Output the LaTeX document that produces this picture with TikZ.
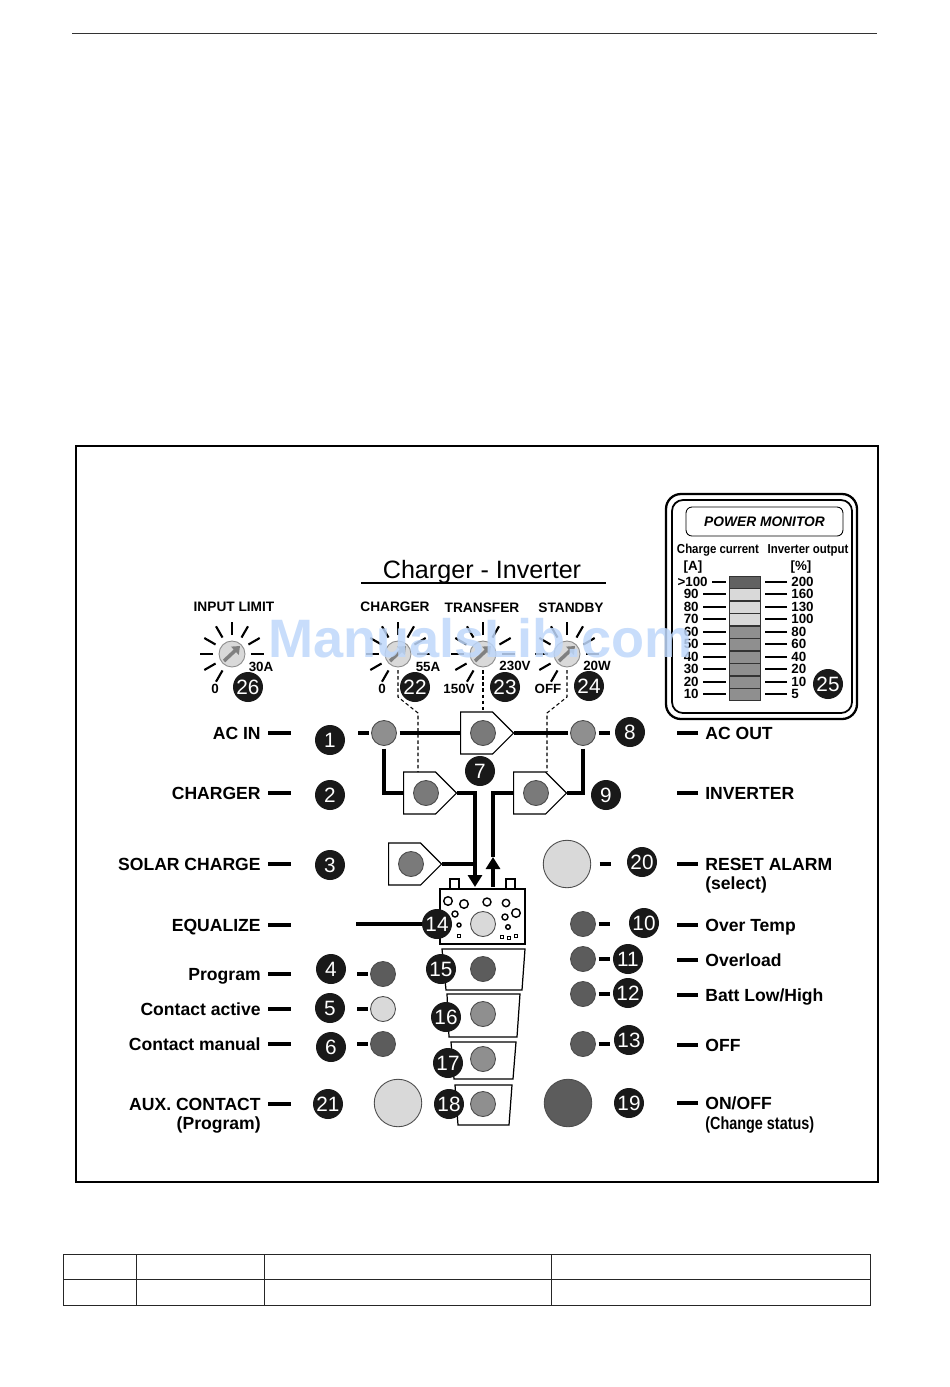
\documentclass[tikz,border=0pt]{standalone}
\usepackage{fontspec}
\setmainfont{Liberation Sans}
\usepackage{tikz}
\usetikzlibrary{arrows.meta,positioning,calc,shapes.symbols}
\definecolor{ledlight}{gray}{0.85}
\definecolor{ledmid}{gray}{0.56}
\definecolor{leddark}{gray}{0.36}
\definecolor{markblue}{RGB}{190,215,250}
\tikzset{
    wire/.style={line width=1.9pt},
    arr/.style={wire, -{Stealth[inset=0pt,length=0.24cm,width=0.28cm]}},
    thinline/.style={line width=0.7pt},
    dashline/.style={line width=0.6pt, dash pattern=on 2pt off 1.5pt},
    led/.style={circle, draw=black!70, fill=#1, line width=0.5pt, minimum size=0.5cm,
                inner sep=0pt, outer sep=0.06cm},
    bigled/.style={led=#1, minimum size=0.95cm},
    knob/.style={circle, draw=black!45, fill=ledlight, line width=0.5pt, minimum size=0.52cm,
                 inner sep=0pt, outer sep=0.06cm},
    badge/.style={circle, fill=black!90, text=white, minimum size=0.6cm, inner sep=0pt,
                  font=\fontsize{11.8pt}{13pt}\selectfont},
    pent/.style={signal, signal to=east, signal pointer angle=90, draw, thinline, fill=white,
                 minimum width=1.06cm, minimum height=0.84cm, inner sep=0pt, anchor=west},
    lbl/.style={font=\fontsize{10pt}{12pt}\selectfont\bfseries, inner sep=0pt,
                text height=7.5pt, text depth=0pt},
    sml/.style={font=\fontsize{7.8pt}{9pt}\selectfont\bfseries, inner sep=0pt},
    scl/.style={font=\fontsize{7.6pt}{9pt}\selectfont\bfseries, inner sep=0pt,
                text height=5.5pt, text depth=0pt},
}
\begin{document}
\begin{tikzpicture}[x=0.02cm, y=-0.02cm]
    \useasboundingbox (0,0) rectangle (950,1387);

    % Page rule, frame and empty table
    \coordinate (ruleL) at (72,33);
    \coordinate (ruleR) at (877,33);
    \draw[black!80, line width=0.5pt] (ruleL) -- (ruleR);
    \draw[line width=0.6pt] (76,446) rectangle (878,1182);
    \draw[black!85, line width=0.5pt] (63,1254) rectangle (870,1305);
    \draw[black!85, line width=0.5pt] (63,1279) -- (870,1279);
    \foreach \x in {136,264,551} \draw[black!85, line width=0.5pt] (\x,1254) -- (\x,1305);

    % Title
    \node[font=\fontsize{14.3pt}{16pt}\selectfont] (title) at (482,572) {Charger - Inverter};
    \coordinate (titleL) at (361,583);
    \coordinate (titleR) at (606,583);
    \draw[line width=0.8pt] (titleL) -- (titleR);

    % Power monitor
    \draw[line width=1.3pt, rounded corners=0.3cm] (666,494) rectangle (857,719);
    \draw[line width=1pt, rounded corners=0.22cm] (672,500) rectangle (852,713);
    \node[draw, line width=0.5pt, rounded corners=0.12cm, minimum width=3.14cm, minimum height=0.58cm,
          inner sep=0pt, font=\fontsize{7.85pt}{9pt}\selectfont\bfseries\itshape] (pmon) at (764.5,521.5) {POWER MONITOR};
    \node[sml] (chgcur) at (718,550) {\scalebox{0.88}[1]{\fontsize{7.4pt}{9pt}\selectfont Charge current}};
    \node[sml] (invout) at (808,550) {\scalebox{0.88}[1]{\fontsize{7.4pt}{9pt}\selectfont Inverter output}};
    \node[scl] (unitA) at (693,566) {[A]};
    \node[scl] (unitP) at (801,566) {[\%]};
    \foreach \n/\yy/\fillc/\la/\ra in {0/582/black!62/{>100}/200, 1/594/ledlight/90/160, 2/607/ledlight/80/130,
            3/619/ledlight/70/100, 4/632/ledmid/60/80, 5/644/ledmid/50/60, 6/657/ledmid/40/40,
            7/669/ledmid/30/20, 8/682/ledmid/20/10, 9/694/ledmid/10/5} {
        \node[draw=black!80, fill=\fillc, line width=0.4pt, minimum width=0.62cm, minimum height=0.25cm,
              inner sep=0pt] (bar\n) at (744.5,\yy+0.5) {};
        \node[scl, anchor=east] (cur\n) at (\ifnum\n=0 708\else 699\fi,\yy) {\la};
        \node[scl, anchor=west] (out\n) at (791,\yy) {\ra};
        \draw[thinline] (cur\n.east) ++(4,0) -- (726,\yy);
        \draw[thinline] (out\n.west) ++(-4,0) -- (765,\yy);
    }

    % Dials
    \node[sml] (limtxt) at (234,607) {INPUT LIMIT};
    \node[sml] (chgtxt) at (395,607) {CHARGER};
    \node[sml] (trftxt) at (482,608) {TRANSFER};
    \node[sml] (stbtxt) at (571,608) {STANDBY};
    \foreach \k/\xx in {limit/232, charger/398, transfer/483, standby/567} {
        \node[knob] (knob\k) at (\xx,654) {};
        \draw[black!50, line width=2pt, -{Stealth[inset=0pt,length=0.14cm,width=0.22cm]}]
            (\xx-8,661) -- (\xx+8,646);
        \foreach \a in {240,210,...,0}
            \draw[line width=1.2pt] (knob\k.center) ++(\a:0.38cm) -- ++(\a:0.26cm);
    }
    \foreach \t/\xx/\yy/\s in {a/261/667/30A, b/428/667/55A, c/515/666/230V, d/597/666/20W,
                               e/215/689/0, f/382/689/0, g/459/689/150V, h/548/689/OFF}
        \node[scl] (dial\t) at (\xx,\yy) {\s};

    % Pentagon switches
    \node[pent] (pentac)  at (460,733) {};
    \node[pent] (pentchg) at (403,793) {};
    \node[pent] (pentinv) at (513,793) {};
    \node[pent] (pentsol) at (388,864) {};

    % Battery
    \draw[thinline, fill=white] (450,879) rectangle (459,889);
    \draw[thinline, fill=white] (506,879) rectangle (515,889);
    \draw[thinline] (440,889) rectangle (525,944);
    \foreach \bx/\by/\br in {448/901/4.3, 464/904/4.3, 487/902/4, 506/903/3.7, 455/914/3, 459/925/2,
                             516/913/4.3, 505/917/3, 508/927/2.3}
        \draw[line width=0.8pt] (\bx,\by) circle[radius=\br*0.02cm];
    \foreach \bx/\by in {459/936, 502/937, 509/938, 516/936}
        \draw[line width=0.6pt] (\bx-1.7,\by-1.7) rectangle (\bx+1.7,\by+1.7);

    % Trapezoids under the battery
    \draw[thinline] (442,949) -- (525,949) -- (522,990) -- (446,990) -- cycle;
    \draw[thinline] (447,994) -- (520,994) -- (517,1037) -- (449,1037) -- cycle;
    \draw[thinline] (451,1042) -- (516,1042) -- (513,1079) -- (454,1079) -- cycle;
    \draw[thinline] (455,1085) -- (512,1085) -- (509,1125) -- (458,1125) -- cycle;

    % LEDs
    \node[led=ledmid]  (ledacin)  at (384,733) {};
    \node[led=ledmid]  (ledacout) at (583,733) {};
    \node[led=black!52] (ledac)   at (483,733) {};
    \node[led=black!52] (ledchg)  at (426,793) {};
    \node[led=black!52] (ledinv)  at (536,793) {};
    \node[led=black!52] (ledsol)  at (411,864) {};
    \node[led=ledlight] (ledbat)  at (483,924) {};
    \node[led=leddark] (ledfl)    at (483,969) {};
    \node[led=ledmid]  (ledabs)   at (483,1014) {};
    \node[led=ledmid]  (ledflt)   at (483,1059) {};
    \node[led=ledmid]  (ledstg)   at (483,1104) {};
    \node[led=leddark] (ledprog)  at (383,974) {};
    \node[led=ledlight] (ledcact) at (383,1009) {};
    \node[led=leddark] (ledcman)  at (383,1044) {};
    \node[led=leddark] (ledtemp)  at (583,924) {};
    \node[led=leddark] (ledover)  at (583,959) {};
    \node[led=leddark] (ledbatt)  at (583,994) {};
    \node[led=leddark] (ledoff)   at (583,1044) {};
    \node[bigled=ledlight] (ledreset) at (567,864) {};
    \node[bigled=ledlight] (ledaux)   at (398,1103) {};
    \node[bigled=leddark]  (ledonoff) at (568,1103) {};

    % Power path
    \draw[wire] (ledacin) -- (pentac);
    \draw[wire] (pentac.east) -- (ledacout);
    \draw[wire] (ledacin.south) |- (pentchg.west);
    \draw[wire] (ledacout.south) |- (pentinv.east);
    \coordinate (battin) at (475,887);
    \coordinate (battout) at (493,887);
    \coordinate (invtip) at (493,857);
    \draw[arr] (pentchg.east) -| (battin);
    \draw[wire] (pentsol.east) -- (pentsol.east -| battin);
    \draw[arr] (battout) -- (invtip);
    \draw[wire] (invtip) |- (pentinv.west);

    % Dashed links
    \coordinate (dashchg) at (418,772);
    \coordinate (dashstb) at (547,772);
    \draw[dashline] (knobcharger.south) -- (398,697) -- (418,713) -- (dashchg);
    \draw[dashline] (knobtransfer.south) -- (pentac.north -| knobtransfer);
    \draw[dashline] (knobstandby.south) -- (567,697) -- (547,713) -- (dashstb);

    % Short stubs by the LEDs
    \foreach \l in {ledacin,ledprog,ledcact,ledcman}
        \draw[wire] (\l.west) -- ++(-11,0);
    \foreach \l in {ledacout,ledtemp,ledover,ledbatt,ledoff}
        \draw[wire] (\l.east) -- ++(11,0);
    \draw[wire] (ledreset.east) ++(6,0) -- ++(11,0);

    % Left labels
    \foreach \n/\yy/\s in {acin/733/AC IN, chg/793/CHARGER, sol/864/SOLAR CHARGE, equ/925/EQUALIZE,
                           prog/974/Program, cact/1009/Contact active, cman/1044/Contact manual,
                           aux/1104/AUX. CONTACT} {
        \node[lbl, anchor=east] (left\n) at (261,\yy) {\s};
        \draw[wire] (left\n.east) ++(7,0) -- ++(23,0);
    }
    \node[lbl, anchor=east] (leftauxb) at (261,1123) {(Program)};

    % Right labels
    \foreach \n/\yy/\s in {acout/733/AC OUT, inv/793/INVERTER, reset/864/RESET ALARM, temp/925/Over Temp,
                           over/960/Overload, batt/995/{Batt Low/High}, off/1045/OFF, onoff/1103/{ON/OFF}} {
        \node[lbl, anchor=west] (right\n) at (705,\yy) {\s};
        \draw[wire] (right\n.west) ++(-7,0) -- ++(-21,0);
    }
    \node[lbl, anchor=west] (rightresetb) at (705,883) {(select)};
    \node[lbl, anchor=west] (rightonoffb) at (705,1123) {\scalebox{0.82}[1]{(Change status)}};

    % Equalize line
    \node[badge] (b14) at (437,924) {14};
    \coordinate (equstart) at (356,924);
    \draw[wire] (equstart) -- (b14);

    % Number badges
    \foreach \n/\xx/\yy in {1/330/740, 2/330/795, 3/330/865, 4/331/969, 5/330/1008, 6/331/1047, 7/480/771,
                            8/630/732, 9/606/795, 10/644/923, 11/628/959, 12/628/993, 13/629/1040,
                            15/441/969, 16/446/1017, 17/448/1063, 18/449/1104, 19/629/1103, 20/642/862,
                            21/328/1104, 22/415/687, 23/505/687, 24/589/686, 25/828/684, 26/248/687}
        \node[badge] (b\n) at (\xx,\yy) {\n};

    % Watermark
    \node[font=\fontsize{30.8pt}{32pt}\selectfont\bfseries, text=markblue, text opacity=0.85,
          anchor=base west, inner sep=0pt] (mark) at (268,657) {ManualsLib.com};
\end{tikzpicture}
\end{document}
